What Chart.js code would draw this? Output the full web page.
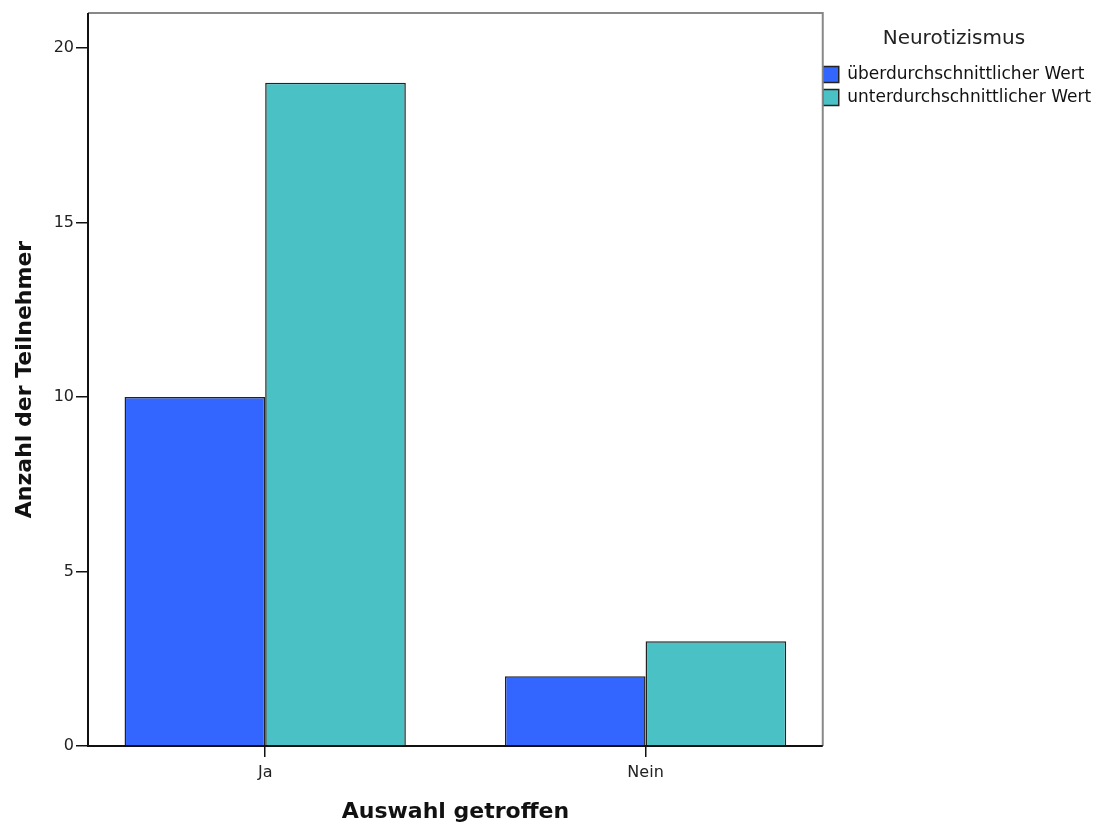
<!DOCTYPE html>
<html lang="de">
<head>
	<meta charset="utf-8">
	<title>Auswahl getroffen</title>
	<script src="https://cdn.jsdelivr.net/npm/chart.js"></script>
	<style>
		html, body {margin:0; padding:0; background:#fff;}
		#box {width:1100px; height:828px;}
	</style>
</head>
<body>
	<div id="box"><canvas id="grafico"></canvas></div>

<script>
	// Daten aus dem Diagramm
	const kategorien = ["Ja", "Nein"];
	const serien = ["überdurchschnittlicher Wert", "unterdurchschnittlicher Wert"];
	const ueberdurchschnittlich = [10, 2];
	const unterdurchschnittlich = [19, 3];
	const yTicks = [0, 5, 10, 15, 20];

	const farben = ["#3366FF", "#4AC2C5"];

	function punkte(werte) {
		return werte.map(function(v, i){ return {x: i, y: v}; });
	}

	// Rahmen um die Zeichenfläche (oben/rechts grau, links/unten schwarz)
	const rahmen = {
		id: "rahmen",
		afterLayout: function(chart) {
			// Legende direkt an den Rahmen schieben
			chart.legend.left -= 6;
			chart.legend.right -= 6;
		},
		afterDatasetsDraw: function(chart) {
			const ctx = chart.ctx, a = chart.chartArea;
			ctx.save();
			ctx.lineWidth = 2;
			ctx.strokeStyle = "#888";
			ctx.beginPath();
			ctx.moveTo(a.left, a.top); ctx.lineTo(a.right, a.top); ctx.lineTo(a.right, a.bottom);
			ctx.stroke();
			ctx.strokeStyle = "#111";
			ctx.beginPath();
			ctx.moveTo(a.left, a.top); ctx.lineTo(a.left, a.bottom); ctx.lineTo(a.right, a.bottom);
			ctx.stroke();
			ctx.restore();
		}
	};

	Chart.defaults.font.family = "'DejaVu Sans', Verdana, sans-serif";
	Chart.defaults.color = "#222";

	new Chart(document.getElementById("grafico"), {
		type: "bar",
		data: {
			datasets: [
				{
					label: serien[0],
					data: punkte(ueberdurchschnittlich),
					backgroundColor: farben[0],
					borderColor: "#222",
					borderWidth: 1.5
				},
				{
					label: serien[1],
					data: punkte(unterdurchschnittlich),
					backgroundColor: farben[1],
					borderColor: "#222",
					borderWidth: 1.5
				}
			]
		},
		plugins: [rahmen],
		options: {
			responsive: true,
			maintainAspectRatio: false,
			animation: false,
			layout: {padding: {top: 13, right: 3, left: 0, bottom: 0}},
			datasets: {bar: {categoryPercentage: 0.7395, barPercentage: 1.0}},
			scales: {
				x: {
					type: "linear",
					offset: false,
					min: -0.4658,
					max: 1.4658,
					afterBuildTicks: function(scale) {
						scale.ticks = kategorien.map(function(k, i){ return {value: i}; });
					},
					afterFit: function(scale) { scale.height = 82; },
					ticks: {
						callback: function(v) { return kategorien[v]; },
						font: {size: 16},
						color: "#222",
						padding: 6,
						maxRotation: 0
					},
					grid: {offset: false, drawOnChartArea: false, drawTicks: true, tickLength: 11, color: "#111", lineWidth: 1.5},
					border: {display: false},
					title: {
						display: true,
						text: "Auswahl getroffen",
						font: {size: 22, weight: "bold"},
						color: "#111",
						padding: {top: 0, bottom: 3}
					}
				},
				y: {
					min: 0,
					max: 21,
					afterBuildTicks: function(scale) {
						scale.ticks = yTicks.map(function(v){ return {value: v}; });
					},
					afterFit: function(scale) { scale.width = 88; },
					ticks: {font: {size: 16}, color: "#222", padding: 2},
					grid: {drawOnChartArea: false, drawTicks: true, tickLength: 12, color: "#111", lineWidth: 1.5},
					border: {display: false},
					title: {
						display: true,
						text: "Anzahl der Teilnehmer",
						font: {size: 22, weight: "bold"},
						color: "#111",
						padding: {top: 12, bottom: 0}
					}
				}
			},
			plugins: {
				legend: {
					position: "right",
					align: "start",
					title: {
						display: true,
						text: "Neurotizismus",
						font: {size: 20},
						color: "#222",
						padding: {top: 16, bottom: 7}
					},
					labels: {
						boxWidth: 16,
						boxHeight: 16,
						padding: 6,
						font: {size: 17},
						color: "#111"
					}
				},
				tooltip: {enabled: false}
			}
		}
	});
</script>
</body>
</html>
